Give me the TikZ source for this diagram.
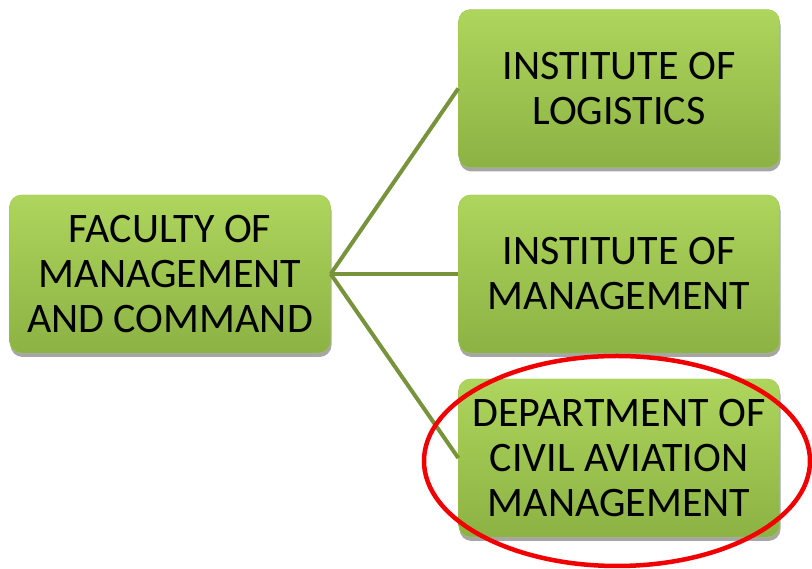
\documentclass[tikz,border=0pt]{standalone}
\usepackage{fontspec}
\setmainfont{Carlito}
\usetikzlibrary{shadows}
\definecolor{boxtop}{HTML}{AED55C}
\definecolor{boxbot}{HTML}{8CB244}
\definecolor{boxedge}{HTML}{9FC653}
\definecolor{linkgreen}{HTML}{77933C}
\definecolor{ringred}{HTML}{F00000}

\begin{document}
\begin{tikzpicture}[x=1pt,y=1pt,
    unit/.style={rounded corners=12pt, minimum width=321pt, minimum height=158pt,
      inner sep=0pt, top color=boxtop, bottom color=boxbot, draw=boxedge, thin,
      align=center, font=\fontsize{42}{45}\selectfont,
      drop shadow={shadow xshift=1pt, shadow yshift=-4pt, opacity=.35, fill=black}},
    link/.style={linkgreen, line width=4pt}]
      \useasboundingbox (0,0) rectangle (812,569);
      % boxes
      \node[unit] (faculty) at (170,295) {FACULTY OF\\MANAGEMENT\\AND COMMAND};
      \node[unit] (logistics) at (619,480.5) {INSTITUTE OF\\LOGISTICS};
      \node[unit] (management) at (619,295) {INSTITUTE OF\\MANAGEMENT};
      \node[unit] (aviation) at (619,111) {DEPARTMENT OF\\CIVIL AVIATION\\MANAGEMENT};
      % links
      \draw[link] (faculty.east) -- (logistics.west);
      \draw[link] (faculty.east) -- (management.west);
      \draw[link] (faculty.east) -- (aviation.west);
      % highlight
      \draw[ringred, line width=4.5pt] (617,108) ellipse [x radius=193, y radius=105];
\end{tikzpicture}
\end{document}
